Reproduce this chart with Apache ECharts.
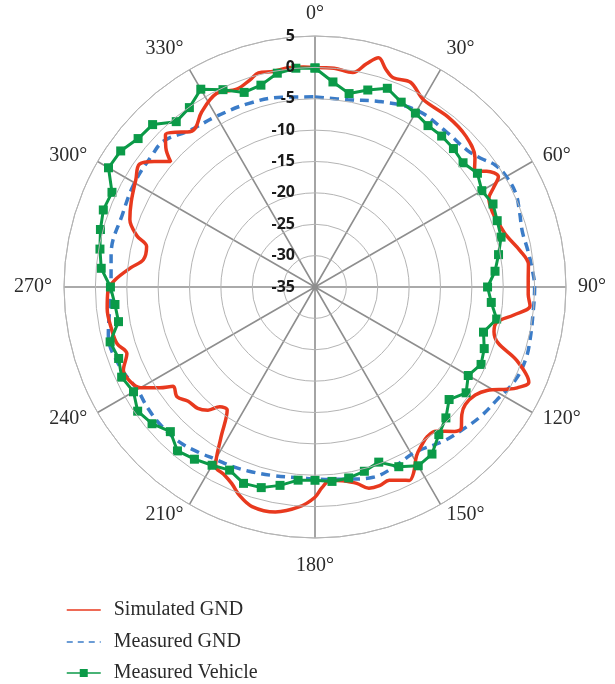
<!DOCTYPE html>
<html>
<head>
<meta charset="utf-8">
<title>Radiation pattern</title>
<script src="https://cdn.jsdelivr.net/npm/echarts@6/dist/echarts.min.js"></script>
<style>
  html, body { margin: 0; padding: 0; background: #ffffff; }
  #chart { width: 615px; height: 684px; }
</style>
</head>
<body>
<div id="chart"></div>
<script>
// Gain scale (dB) and angle ticks
const radiusTicks = [-35, -30, -25, -20, -15, -10, -5, 0, 5];
const angleTicks = [0, 30, 60, 90, 120, 150, 180, 210, 240, 270, 300, 330];

// Simulated GND: azimuth (deg) and gain (dB)
const simAngles = [0, 5, 10, 13, 15.5, 18, 20.5, 25, 30, 38, 45, 51, 54, 56, 59, 61, 63, 67, 71, 75, 80, 84, 88, 92, 95, 98, 101, 104, 107, 110, 114, 116.5, 118, 121, 124, 128, 131, 134, 136, 140, 143, 146, 149, 152, 154, 156, 159, 162, 165, 168, 172, 175.5, 178, 180, 184, 190, 196, 200, 203, 206, 209, 212, 215.5, 218.5, 221, 224, 228, 231.5, 235, 237, 240, 243, 246.5, 250.5, 254, 258, 264, 269, 272, 276, 279, 283.5, 286, 290, 295, 301, 305, 308, 311, 313, 315.5, 318, 320.5, 323, 327, 333, 338.4, 342.6, 345.2, 349, 353, 357, 360];
const simValues = [0.0, 0.0, -0.3, 1.5, 2.9, 1.5, 0.6, 1.0, -0.5, -0.6, -1.0, -2.2, -3.6, -2.0, -0.9, -2.5, -3.9, -4.3, -4.0, -3.4, -1.8, -0.8, -1.0, -1.0, -0.6, -3.0, -5.5, -5.6, -4.5, -0.8, 2.3, 1.0, -0.3, -3.0, -4.2, -4.6, -4.0, -2.6, -3.0, -5.0, -5.2, -4.6, -3.6, -1.5, -0.7, -1.3, -2.0, -1.7, -1.8, -3.0, -3.8, -4.1, -3.0, -1.5, 0.1, 1.4, 1.4, 0.3, -1.0, -1.8, -2.3, -6.7, -10.9, -10.6, -9.0, -8.1, -7.8, -6.9, -7.4, -5.5, -2.9, -1.9, -1.7, -3.2, -2.2, -1.9, -1.7, -2.0, -3.1, -5.5, -7.3, -7.4, -5.5, -3.6, -2.7, -1.7, -0.85, -2.5, -4.5, -2.5, -1.0, -1.8, -3.0, -3.3, -1.8, -0.4, -1.1, -0.4, 0.3, 0.0, 0.2, 0.1, 0.0];

// Measured GND
const gndAngles = [0, 10, 20, 30, 40, 48, 52, 56, 60, 65, 70, 75, 80, 85, 90, 97, 104, 109, 115, 122, 128, 134, 140, 149, 157, 163, 170, 177, 185, 193, 200, 205, 210, 215, 221, 228, 234, 240, 248, 257, 266, 270, 279, 291, 300, 309, 314, 321, 330, 340, 350, 360];
const gndValues = [-4.7, -4.7, -3.6, -2.5, -2.6, -2.4, -1.6, -0.3, 0.2, 0.3, -0.3, -0.8, -0.6, -0.3, 0.0, 0.0, 0.3, 0.5, 0.2, -0.9, -1.5, -2.3, -3.0, -4.2, -3.6, -3.3, -3.9, -4.3, -4.5, -4.2, -3.8, -3.5, -3.3, -2.8, -2.2, -2.0, -2.1, -2.3, -1.4, -1.2, -2.3, -2.5, -2.1, -2.2, -1.8, -1.6, -1.5, -3.0, -3.6, -3.9, -4.3, -4.7];

// Measured Vehicle
const vehAngles = [0, 5, 10, 15, 20, 25, 30, 35, 40, 45, 50, 55, 60, 65, 70, 75, 80, 85, 90, 95, 100, 105, 110, 115, 120, 125, 130, 135, 140, 145, 150, 155, 160, 165, 170, 175, 180, 185, 190, 195, 200, 205, 210, 215, 220, 225, 230, 235, 240, 245, 250, 255, 260, 265, 270, 275, 280, 285, 290, 295, 300, 305, 310, 315, 320, 325, 330, 335, 340, 345, 350, 355, 360];
const vehValues = [-0.1, -2.2, -3.7, -2.5, -1.3, -2.5, -3.0, -3.6, -3.6, -3.8, -4.2, -3.4, -4.3, -3.7, -4.1, -4.3, -5.3, -6.2, -7.5, -6.8, -5.6, -7.2, -6.3, -5.8, -6.8, -5.6, -7.1, -5.5, -4.3, -2.5, -2.1, -3.4, -5.3, -4.6, -4.1, -3.9, -4.2, -4.1, -2.9, -1.9, -1.7, -2.8, -2.2, -1.5, -0.9, -2.4, -1.1, -0.5, -1.6, -1.0, -1.7, -1.2, -3.2, -3.0, -2.4, -0.8, -0.2, 0.4, 0.9, 0.7, 3.0, 2.8, 1.8, 1.6, -0.6, -0.1, 1.4, -0.3, -2.0, -1.7, -0.4, 0.0, -0.1];

const seriesNames = ['Simulated GND', 'Measured GND', 'Measured Vehicle'];
const colors = ['#e8391e', '#3b7cc8', '#0b9a48'];

const CENTER = [315, 287];
const RADIUS = 251;
const LEGEND_TOPS = [600, 632, 663];

function pairs(angles, values) {
  return angles.map((a, i) => [values[i], a]);
}

// Compass labels sit just outside the outer ring
function angleLabel(deg) {
  const t = deg * Math.PI / 180;
  const sx = Math.sin(t), cy = -Math.cos(t);
  const r = RADIUS + (deg === 180 ? 18 : 12);
  let align = Math.abs(sx) < 0.3 ? 'center' : (sx > 0 ? 'left' : 'right');
  let vAlign = 'middle';
  if (deg === 0 || deg === 30 || deg === 330) vAlign = 'bottom';
  if (deg === 180) vAlign = 'top';
  return {
    type: 'text',
    x: CENTER[0] + r * sx,
    y: CENTER[1] + r * cy,
    style: {
      text: deg + '°',
      fill: '#2b2b2b',
      font: '20px "Liberation Serif"',
      align: align,
      verticalAlign: vAlign
    },
    z: 10
  };
}

// One legend row per series, stacked under the plot
function legendRow(i) {
  const item = { name: seriesNames[i] };
  if (i < 2) item.itemStyle = { opacity: 0 };
  if (i === 1) item.lineStyle = { type: [6, 5] };
  return {
    orient: 'vertical',
    left: 66,
    top: LEGEND_TOPS[i],
    padding: 0,
    itemWidth: 34,
    itemHeight: 10,
    textStyle: {
      fontFamily: 'Liberation Serif',
      fontSize: 20,
      lineHeight: 18,
      color: '#2b2b2b',
      padding: [0, 0, 0, 8]
    },
    lineStyle: { width: 1.5 },
    data: [item]
  };
}

const chart = echarts.init(document.getElementById('chart'), null, { renderer: 'canvas' });

chart.setOption({
  backgroundColor: '#ffffff',
  animation: false,
  polar: { center: CENTER, radius: RADIUS },
  angleAxis: {
    type: 'value',
    min: 0,
    max: 360,
    interval: 30,
    startAngle: 90,
    clockwise: true,
    axisLine: { show: true, lineStyle: { color: '#b4b4b4', width: 1 } },
    axisTick: { show: false },
    axisLabel: { show: false },
    splitLine: { show: true, lineStyle: { color: '#8e8e8e', width: 1.6 } }
  },
  radiusAxis: {
    type: 'value',
    min: radiusTicks[0],
    max: radiusTicks[radiusTicks.length - 1],
    interval: 5,
    axisLine: { show: false },
    axisTick: { show: false },
    splitLine: { show: true, lineStyle: { color: '#b4b4b4', width: 1 } },
    axisLabel: {
      margin: 20,
      color: '#1a1a1a',
      fontFamily: 'Open Sans',
      fontWeight: 'bold',
      fontSize: 16
    },
    z: 5
  },
  graphic: angleTicks.map(angleLabel),
  legend: [0, 1, 2].map(legendRow),
  series: [
    {
      name: seriesNames[0],
      type: 'line',
      coordinateSystem: 'polar',
      data: pairs(simAngles, simValues),
      smooth: 0.35,
      symbol: 'none',
      lineStyle: { color: colors[0], width: 3.5 },
      itemStyle: { color: colors[0] },
      z: 3
    },
    {
      name: seriesNames[1],
      type: 'line',
      coordinateSystem: 'polar',
      data: pairs(gndAngles, gndValues),
      smooth: 0.4,
      symbol: 'none',
      lineStyle: { color: colors[1], width: 3.5, type: [9, 6] },
      itemStyle: { color: colors[1] },
      z: 2
    },
    {
      name: seriesNames[2],
      type: 'line',
      coordinateSystem: 'polar',
      data: pairs(vehAngles, vehValues),
      symbol: 'rect',
      symbolSize: 9,
      showAllSymbol: true,
      lineStyle: { color: colors[2], width: 3 },
      itemStyle: { color: colors[2] },
      z: 4
    }
  ]
});
</script>
</body>
</html>
